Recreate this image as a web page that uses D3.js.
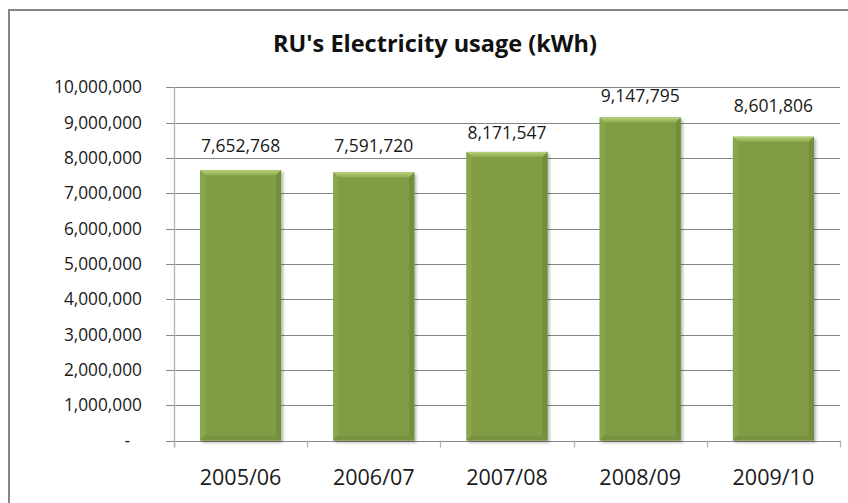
<!DOCTYPE html>
<html>
<head>
<meta charset="utf-8">
<script src="https://cdn.jsdelivr.net/npm/d3@7"></script>
<style>
  html, body { margin: 0; padding: 0; background: #fff; }
  svg { display: block; font-family: "Open Sans", "Liberation Sans", sans-serif; }
</style>
</head>
<body>
<svg id="chart" width="848" height="503"></svg>
<script>
// Annual electricity usage, kWh
const years = ["2005/06", "2006/07", "2007/08", "2008/09", "2009/10"];
const usage = [7652768, 7591720, 8171547, 9147795, 8601806];
const yTicks = [0, 1000000, 2000000, 3000000, 4000000, 5000000, 6000000, 7000000, 8000000, 9000000, 10000000];
// small vertical nudges for the value labels (px above the bar top)
const labelLift = [18.5, 20, 13, 15.5, 25];

const svg = d3.select("#chart");
const W = 848, H = 503;

// chart frame (runs off the right and bottom edges)
svg.append("rect")
  .attr("x", 9).attr("y", 10)
  .attr("width", W + 20).attr("height", H + 20)
  .attr("fill", "#fff").attr("stroke", "#868686").attr("stroke-width", 2);

const plot = { left: 174, right: 840, top: 87.3, bottom: 440.5 };

const x = d3.scaleBand().domain(years)
  .range([plot.left, plot.right]).paddingInner(0.392).paddingOuter(0.196);
const y = d3.scaleLinear().domain([0, 10000000]).range([plot.bottom, plot.top]);

const defs = svg.append("defs");
const shadow = defs.append("filter").attr("id", "barShadow")
  .attr("x", "-20%").attr("y", "-20%").attr("width", "150%").attr("height", "150%");
shadow.append("feDropShadow")
  .attr("dx", 2).attr("dy", 2).attr("stdDeviation", 1.8)
  .attr("flood-color", "#000").attr("flood-opacity", 0.3);

const topGrad = defs.append("linearGradient").attr("id", "bevelTop")
  .attr("x1", 0).attr("y1", 0).attr("x2", 0).attr("y2", 1);
topGrad.append("stop").attr("offset", "0%").attr("stop-color", "#b7d277");
topGrad.append("stop").attr("offset", "100%").attr("stop-color", "#8fad52");

// horizontal gridlines with short outward ticks
const fmt = d3.format(",");
svg.append("g")
  .selectAll("line").data(yTicks).join("line")
  .attr("x1", plot.left - 8).attr("x2", plot.right)
  .attr("y1", d => Math.round(y(d)) + 0.5).attr("y2", d => Math.round(y(d)) + 0.5)
  .attr("stroke", "#868686").attr("stroke-width", 1);

// vertical value axis
svg.append("line")
  .attr("x1", plot.left + 0.5).attr("x2", plot.left + 0.5)
  .attr("y1", y(10000000)).attr("y2", plot.bottom + 7)
  .attr("stroke", "#b3b3b3").attr("stroke-width", 1.3);

// category tick marks at band boundaries
const bounds = years.map(d => x(d) - x.step() * x.paddingInner() / 2);
bounds.push(plot.right);
bounds[0] = plot.left;
svg.append("g")
  .selectAll("line").data(bounds).join("line")
  .attr("x1", d => Math.round(d) + 0.5).attr("x2", d => Math.round(d) + 0.5)
  .attr("y1", plot.bottom).attr("y2", plot.bottom + 7)
  .attr("stroke", "#b3b3b3").attr("stroke-width", 1.3);

// y tick labels
svg.append("g")
  .selectAll("text").data(yTicks).join("text")
  .attr("x", d => d === 0 ? 130 : 142)
  .attr("y", d => y(d))
  .attr("dy", "0.35em")
  .attr("text-anchor", "end")
  .attr("font-size", 17.3)
  .attr("fill", "#1a1a1a")
  .text(d => d === 0 ? "-" : fmt(d));

// bars
const bev = 5;
const bars = svg.append("g").selectAll("g").data(usage).join("g");
bars.append("rect")
  .attr("x", (d, i) => x(years[i]))
  .attr("y", d => y(d))
  .attr("width", x.bandwidth())
  .attr("height", d => plot.bottom - y(d))
  .attr("fill", "#809d44")
  .attr("filter", "url(#barShadow)");
// bevel faces
bars.each(function (d, i) {
  const g = d3.select(this);
  const x0 = x(years[i]), x1 = x0 + x.bandwidth();
  const y0 = y(d), y1 = plot.bottom;
  g.append("polygon")
    .attr("points", [[x0, y0], [x1, y0], [x1 - bev, y0 + bev], [x0 + bev, y0 + bev]].join(" "))
    .attr("fill", "url(#bevelTop)");
  g.append("polygon")
    .attr("points", [[x0, y0], [x0 + bev, y0 + bev], [x0 + bev, y1 - bev], [x0, y1]].join(" "))
    .attr("fill", "#88a64b");
  g.append("polygon")
    .attr("points", [[x1, y0], [x1, y1], [x1 - bev, y1 - bev], [x1 - bev, y0 + bev]].join(" "))
    .attr("fill", "#748f3c");
  g.append("polygon")
    .attr("points", [[x0, y1], [x0 + bev, y1 - bev], [x1 - bev, y1 - bev], [x1, y1]].join(" "))
    .attr("fill", "#78933e");
});

// value labels
svg.append("g")
  .selectAll("text").data(usage).join("text")
  .attr("x", (d, i) => x(years[i]) + x.bandwidth() / 2)
  .attr("y", (d, i) => y(d) - labelLift[i])
  .attr("text-anchor", "middle")
  .attr("font-size", 17.5)
  .attr("fill", "#1a1a1a")
  .text(d => fmt(d));

// category labels
svg.append("g")
  .selectAll("text").data(years).join("text")
  .attr("x", d => x(d) + x.bandwidth() / 2)
  .attr("y", 485)
  .attr("text-anchor", "middle")
  .attr("font-size", 21.5)
  .attr("fill", "#1a1a1a")
  .text(d => d);

// title
svg.append("text")
  .attr("x", 435).attr("y", 52)
  .attr("text-anchor", "middle")
  .attr("font-size", 23.5)
  .attr("font-weight", "bold")
  .attr("fill", "#111")
  .text("RU's Electricity usage (kWh)");
</script>
</body>
</html>
